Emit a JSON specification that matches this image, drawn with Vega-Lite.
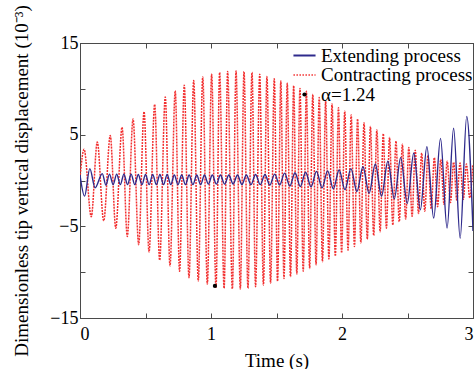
{
  "$schema": "https://vega.github.io/schema/vega-lite/v6.json",
  "width": 393,
  "height": 275,
  "autosize": {"type": "none"},
  "padding": {"left": 80, "top": 43, "right": 1, "bottom": 51},
  "background": "white",
  "config": {
    "view": {"stroke": "#4a4a4a", "strokeWidth": 1},
    "font": "Liberation Serif",
    "axis": {
      "grid": false,
      "tickSize": -5,
      "tickColor": "#4a4a4a",
      "domainColor": "#4a4a4a",
      "labelFont": "Liberation Serif",
      "titleFont": "Liberation Serif",
      "labelFontSize": 18,
      "titleFontSize": 19,
      "labelColor": "#000000",
      "titleColor": "#000000",
      "titleFontWeight": "normal"
    }
  },
  "datasets": {
    "red": [
      {"t": 0, "v": 0.3},
      {"t": 0.031, "v": 3.4}, {"t": 0.086, "v": -3.95}, {"t": 0.132, "v": 4.2}, {"t": 0.181, "v": -4.4},
      {"t": 0.231, "v": 4.9}, {"t": 0.273, "v": -5.2}, {"t": 0.321, "v": 5.8}, {"t": 0.361, "v": -6.1},
      {"t": 0.405, "v": 6.7}, {"t": 0.448, "v": -7.0}, {"t": 0.489, "v": 7.5}, {"t": 0.527, "v": -7.8},
      {"t": 0.570, "v": 8.3}, {"t": 0.608, "v": -8.7}, {"t": 0.651, "v": 9.1}, {"t": 0.687, "v": -9.3},
      {"t": 0.727, "v": 9.8}, {"t": 0.760, "v": -9.9}, {"t": 0.796, "v": 10.4}, {"t": 0.832, "v": -10.6},
      {"t": 0.868, "v": 10.9}, {"t": 0.903, "v": -10.96}, {"t": 0.937, "v": 11.3}, {"t": 0.972, "v": -11.3},
      {"t": 1.005, "v": 11.6}, {"t": 1.038, "v": -11.65}, {"t": 1.066, "v": 11.8}, {"t": 1.100, "v": -11.76},
      {"t": 1.127, "v": 11.9}, {"t": 1.163, "v": -11.83}, {"t": 1.191, "v": 11.95}, {"t": 1.224, "v": -11.83},
      {"t": 1.252, "v": 11.9}, {"t": 1.282, "v": -11.76}, {"t": 1.313, "v": 11.8}, {"t": 1.340, "v": -11.58},
      {"t": 1.372, "v": 11.6}, {"t": 1.400, "v": -11.4}, {"t": 1.427, "v": 11.35}, {"t": 1.455, "v": -11.2},
      {"t": 1.483, "v": 11.1}, {"t": 1.508, "v": -11.0}, {"t": 1.533, "v": 10.85}, {"t": 1.557, "v": -10.7},
      {"t": 1.582, "v": 10.6}, {"t": 1.607, "v": -10.5}, {"t": 1.631, "v": 10.35}, {"t": 1.655, "v": -10.2},
      {"t": 1.679, "v": 10.05}, {"t": 1.704, "v": -9.9}, {"t": 1.728, "v": 9.75}, {"t": 1.753, "v": -9.6},
      {"t": 1.777, "v": 9.4}, {"t": 1.802, "v": -9.2}, {"t": 1.826, "v": 9.05}, {"t": 1.851, "v": -8.85},
      {"t": 1.875, "v": 8.7}, {"t": 1.900, "v": -8.56}, {"t": 1.924, "v": 8.35}, {"t": 1.949, "v": -8.25},
      {"t": 1.973, "v": 7.95}, {"t": 1.997, "v": -7.9}, {"t": 2.021, "v": 7.55}, {"t": 2.046, "v": -7.6},
      {"t": 2.070, "v": 7.15}, {"t": 2.095, "v": -7.2}, {"t": 2.119, "v": 6.7}, {"t": 2.144, "v": -6.8},
      {"t": 2.168, "v": 6.3}, {"t": 2.193, "v": -6.4}, {"t": 2.217, "v": 5.9}, {"t": 2.242, "v": -6.0},
      {"t": 2.266, "v": 5.5}, {"t": 2.291, "v": -5.6}, {"t": 2.315, "v": 5.1}, {"t": 2.339, "v": -5.2},
      {"t": 2.363, "v": 4.7}, {"t": 2.388, "v": -4.85}, {"t": 2.412, "v": 4.3}, {"t": 2.437, "v": -4.5},
      {"t": 2.461, "v": 3.95}, {"t": 2.486, "v": -4.2}, {"t": 2.510, "v": 3.6}, {"t": 2.535, "v": -3.9},
      {"t": 2.559, "v": 3.3}, {"t": 2.584, "v": -3.6}, {"t": 2.608, "v": 3.0}, {"t": 2.632, "v": -3.35},
      {"t": 2.656, "v": 2.75}, {"t": 2.681, "v": -3.1}, {"t": 2.705, "v": 2.5}, {"t": 2.730, "v": -2.85},
      {"t": 2.754, "v": 2.3}, {"t": 2.779, "v": -2.6}, {"t": 2.803, "v": 2.1}, {"t": 2.828, "v": -2.4},
      {"t": 2.852, "v": 2.0}, {"t": 2.877, "v": -2.2}, {"t": 2.901, "v": 1.9}, {"t": 2.926, "v": -2.05},
      {"t": 2.950, "v": 1.8}, {"t": 2.975, "v": -1.9}, {"t": 2.998, "v": 1.7}
    ],
    "blue": [
      {"t": 0, "v": 0.6}, {"t": 0.035, "v": -1.7}, {"t": 0.075, "v": 1.3}, {"t": 0.115, "v": -0.8},
      {"t": 0.17, "v": 0.75}, {"t": 0.198, "v": -0.5}, {"t": 0.225, "v": 0.7}, {"t": 0.253, "v": -0.45},
      {"t": 0.28, "v": 0.7}, {"t": 0.308, "v": -0.45}, {"t": 0.335, "v": 0.7}, {"t": 0.363, "v": -0.45},
      {"t": 0.39, "v": 0.7}, {"t": 0.418, "v": -0.45}, {"t": 0.445, "v": 0.65}, {"t": 0.473, "v": -0.45},
      {"t": 0.5, "v": 0.65}, {"t": 0.528, "v": -0.45}, {"t": 0.555, "v": 0.65}, {"t": 0.583, "v": -0.45},
      {"t": 0.61, "v": 0.65}, {"t": 0.638, "v": -0.45}, {"t": 0.665, "v": 0.65}, {"t": 0.693, "v": -0.45},
      {"t": 0.72, "v": 0.6}, {"t": 0.748, "v": -0.45}, {"t": 0.776, "v": 0.6}, {"t": 0.805, "v": -0.45},
      {"t": 0.833, "v": 0.6}, {"t": 0.862, "v": -0.45}, {"t": 0.891, "v": 0.6}, {"t": 0.921, "v": -0.45},
      {"t": 0.95, "v": 0.6}, {"t": 0.98, "v": -0.4}, {"t": 1.01, "v": 0.6}, {"t": 1.041, "v": -0.4},
      {"t": 1.072, "v": 0.6}, {"t": 1.104, "v": -0.4}, {"t": 1.136, "v": 0.6}, {"t": 1.169, "v": -0.4},
      {"t": 1.202, "v": 0.6}, {"t": 1.236, "v": -0.45}, {"t": 1.27, "v": 0.6}, {"t": 1.305, "v": -0.45},
      {"t": 1.34, "v": 0.65}, {"t": 1.376, "v": -0.45}, {"t": 1.412, "v": 0.65}, {"t": 1.449, "v": -0.5},
      {"t": 1.486, "v": 0.7}, {"t": 1.524, "v": -0.5}, {"t": 1.562, "v": 0.8}, {"t": 1.602, "v": -0.6},
      {"t": 1.641, "v": 0.85}, {"t": 1.682, "v": -0.65}, {"t": 1.722, "v": 0.9}, {"t": 1.764, "v": -0.7},
      {"t": 1.805, "v": 1.0}, {"t": 1.848, "v": -0.8}, {"t": 1.89, "v": 1.05}, {"t": 1.934, "v": -0.9},
      {"t": 1.978, "v": 1.15}, {"t": 2.023, "v": -1.0}, {"t": 2.068, "v": 1.3}, {"t": 2.114, "v": -1.2},
      {"t": 2.16, "v": 1.5}, {"t": 2.207, "v": -1.4}, {"t": 2.254, "v": 1.8}, {"t": 2.302, "v": -1.7},
      {"t": 2.35, "v": 2.1}, {"t": 2.399, "v": -2.0}, {"t": 2.448, "v": 2.5}, {"t": 2.498, "v": -2.5},
      {"t": 2.548, "v": 3.0}, {"t": 2.598, "v": -3.2}, {"t": 2.648, "v": 3.7}, {"t": 2.70, "v": -4.1},
      {"t": 2.752, "v": 4.6}, {"t": 2.802, "v": -5.2}, {"t": 2.852, "v": 5.7}, {"t": 2.902, "v": -6.3},
      {"t": 2.952, "v": 7.0}, {"t": 3.0, "v": -5.5}
    ],
    "dots": [
      {"t": 1.03, "v": -11.5}
    ]
  },
  "resolve": {"axis": {"x": "independent", "y": "independent"}},
  "layer": [
    {
      "data": {"name": "red"},
      "mark": {"type": "line", "interpolate": "monotone", "strokeDash": [2, 1], "strokeWidth": 1.5, "clip": true},
      "encoding": {
        "x": {
          "field": "t", "type": "quantitative",
          "scale": {"domain": [0, 3], "nice": false},
          "axis": {
            "values": [0, 0.5, 1, 1.5, 2, 2.5, 3],
            "format": "~g",
            "labelExpr": "datum.value % 1 === 0 ? datum.label : ''",
            "title": "Time (s)",
            "labelPadding": 12,
            "titlePadding": 8
          }
        },
        "y": {
          "field": "v", "type": "quantitative",
          "scale": {"domain": [-15, 15], "nice": false},
          "axis": {
            "values": [-15, -10, -5, 0, 5, 10, 15],
            "labelExpr": "datum.value % 10 === 0 ? '' : datum.label",
            "title": "Dimensionless tip vertical displacement (10⁻³)",
            "labelPadding": 7,
            "titlePadding": 18
          }
        },
        "color": {
          "datum": "Contracting process",
          "scale": {
            "domain": ["Extending process", "Contracting process", "α=1.24"],
            "range": ["#2e2a8c", "#f23030", "#000000"]
          },
          "legend": {
            "orient": "none",
            "legendX": 215,
            "legendY": 3,
            "title": null,
            "labelFont": "Liberation Serif",
            "labelFontSize": 19,
            "labelColor": "#000000",
            "labelLimit": 300,
            "symbolSize": 289,
            "rowPadding": 0,
            "labelOffset": 7,
            "encode": {
              "labels": {
                "update": {
                  "dy": {"signal": "-3.5 * datum.index"}
                }
              },
              "symbols": {
                "update": {
                  "y": {"signal": "9.5 - 3.5 * datum.index"},
                  "shape": {"signal": "datum.label === 'α=1.24' ? 'circle' : 'M-1.3,0H1.3'"},
                  "size": {"signal": "datum.label === 'α=1.24' ? 18 : 289"},
                  "fill": {"signal": "datum.label === 'α=1.24' ? '#000000' : 'transparent'"},
                  "stroke": {"signal": "datum.label === 'α=1.24' ? '#000000' : (datum.label === 'Contracting process' ? '#f23030' : '#2e2a8c')"},
                  "strokeWidth": {"signal": "datum.label === 'α=1.24' ? 0 : (datum.label === 'Contracting process' ? 1.3 : 1.8)"},
                  "strokeDash": {"signal": "datum.label === 'Contracting process' ? [1.5, 1.5] : [1, 0]"},
                  "opacity": {"value": 1}
                }
              }
            }
          }
        }
      }
    },
    {
      "data": {"name": "blue"},
      "mark": {"type": "line", "interpolate": "monotone", "strokeWidth": 1.4, "clip": true},
      "encoding": {
        "x": {"field": "t", "type": "quantitative", "axis": null},
        "y": {"field": "v", "type": "quantitative", "axis": null},
        "color": {"datum": "Extending process"}
      }
    },
    {
      "data": {"name": "dots"},
      "mark": {"type": "point", "filled": true, "size": 18, "opacity": 1},
      "encoding": {
        "x": {"field": "t", "type": "quantitative", "axis": null},
        "y": {"field": "v", "type": "quantitative", "axis": null},
        "color": {"datum": "α=1.24"}
      }
    },
    {
      "data": {"name": "dots"},
      "mark": {"type": "point", "opacity": 0},
      "encoding": {
        "x": {"field": "t", "type": "quantitative", "axis": {"orient": "top", "values": [0, 0.5, 1, 1.5, 2, 2.5, 3], "labels": false, "title": null}},
        "y": {"field": "v", "type": "quantitative", "axis": {"orient": "right", "values": [-15, -10, -5, 0, 5, 10, 15], "labels": false, "title": null}}
      }
    }
  ]
}
